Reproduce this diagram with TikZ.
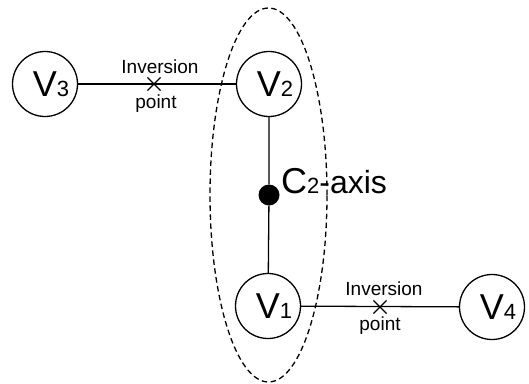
\documentclass[tikz,border=0pt]{standalone}
\usepackage{fontspec}
\setmainfont{Liberation Sans}
\usetikzlibrary{shapes.geometric,shapes.misc}
\newcommand\vlab[1]{\hspace*{12pt}\fontsize{36}{40}\selectfont V{\fontsize{22}{24}\selectfont #1}}
\begin{document}
\begin{tikzpicture}[x=1pt,y=-1pt,
  vert/.style={circle,draw,line width=1.3pt,minimum size=65pt,inner sep=0pt},
  edge/.style={line width=1.3pt},
  small/.style={font=\fontsize{19}{22}\selectfont,inner sep=0pt},
  ipoint/.style={cross out,draw,line width=1.1pt,minimum size=12pt,inner sep=0pt}]
\useasboundingbox (0,0) rectangle (529,383);
\node[ellipse,draw,dash pattern=on 5.5pt off 3.5pt,line width=1.3pt,minimum width=117pt,minimum height=374pt,inner sep=0pt] (grp) at (268.5,195) {};
\node[vert] (v3) at (45,84) {\vlab{3}};
\node[vert] (v2) at (269,84) {\vlab{2}};
\node[vert] (v1) at (268,306) {\vlab{1}};
\node[vert] (v4) at (492,307) {\vlab{4}};
\node[circle,fill,minimum size=21pt,inner sep=0pt] (dot) at (269,195) {};
\node[ipoint] (ip1) at (154,84) {};
\node[ipoint] (ip2) at (380,307) {};
\draw[edge] (v3) -- (v2);
\draw[edge] (v1) -- (v4);
\draw[edge] (v2) -- (dot) -- (v1);
\node[small,anchor=base] (t1) at (160,73) {Inversion};
\node[small,anchor=base] (p1) at (156,108) {point};
\node[small,anchor=base] (t2) at (384,295) {Inversion};
\node[small,anchor=base] (p2) at (380,330) {point};
\node[anchor=base west,inner sep=0pt] (ax) at (281,193) {\fontsize{36}{40}\selectfont C{\fontsize{22}{24}\selectfont 2}{\fontsize{32}{36}\selectfont -axis}};
\end{tikzpicture}
\end{document}
